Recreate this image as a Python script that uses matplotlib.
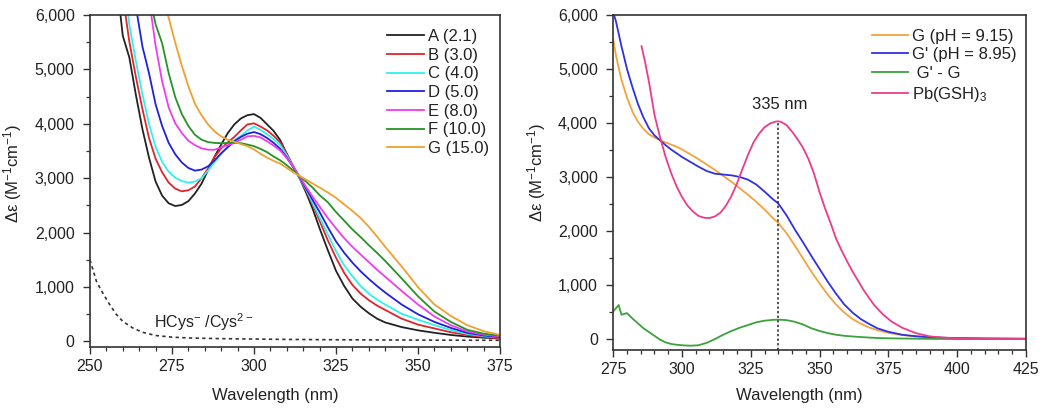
import numpy as np
import matplotlib
matplotlib.use("Agg")
import matplotlib.pyplot as plt
from matplotlib.ticker import MultipleLocator, StrMethodFormatter

plt.rcParams["font.family"] = ["Liberation Sans", "DejaVu Sans"]
plt.rcParams["mathtext.default"] = "regular"

# ---- left panel: Pb/Cys titration (ratio in legend) ----
wl_left = [258, 260, 262, 264, 266, 268, 270, 272, 274, 276, 278, 280, 282, 284,
           286, 288, 290, 292, 294, 296, 298, 300, 302, 304, 306, 308, 310, 312,
           314, 316, 318, 320, 322.5, 325, 327.5, 330, 332.5, 335, 337.5, 340,
           345, 350, 355, 360, 365, 370, 375]

spec_A = [6700, 5620, 5220, 4530, 3900, 3380, 2940, 2680, 2540, 2490, 2510, 2580,
          2720, 2900, 3150, 3400, 3620, 3830, 3990, 4100, 4160, 4180, 4110, 3990,
          3870, 3700, 3450, 3200, 2990, 2720, 2420, 2080, 1680, 1300, 1020, 790,
          640, 520, 420, 350, 265, 205, 160, 120, 90, 70, 55]
spec_B = [7500, 6350, 5510, 4860, 4270, 3740, 3360, 3110, 2920, 2810, 2760, 2780,
          2850, 3000, 3180, 3390, 3550, 3660, 3760, 3880, 3990, 4010, 3950, 3880,
          3780, 3660, 3450, 3220, 3000, 2760, 2500, 2220, 1860, 1540, 1260, 1040,
          880, 760, 660, 580, 420, 310, 240, 170, 120, 85, 61]
spec_C = [8000, 6800, 5820, 5150, 4540, 4000, 3580, 3300, 3120, 3010, 2950, 2920,
          2940, 3000, 3140, 3300, 3450, 3590, 3700, 3780, 3880, 3950, 3890, 3810,
          3720, 3610, 3420, 3210, 3000, 2780, 2530, 2280, 1970, 1660, 1400, 1200,
          1020, 880, 770, 680, 510, 400, 300, 210, 140, 100, 74]
spec_D = [9000, 8000, 7000, 6150, 5420, 4930, 4360, 3960, 3650, 3440, 3290, 3190,
          3140, 3160, 3220, 3330, 3460, 3570, 3680, 3760, 3820, 3850, 3810, 3740,
          3650, 3540, 3380, 3200, 3010, 2800, 2590, 2380, 2100, 1840, 1630, 1450,
          1290, 1150, 1020, 900, 680, 500, 360, 250, 160, 110, 80]
spec_E = [10500, 9600, 8800, 8000, 7200, 6300, 5440, 4780, 4300, 4010, 3830, 3690,
          3610, 3550, 3525, 3525, 3570, 3610, 3650, 3710, 3770, 3780, 3750, 3680,
          3600, 3510, 3370, 3210, 3020, 2830, 2650, 2480, 2270, 2080, 1900, 1740,
          1600, 1460, 1320, 1190, 930, 680, 460, 300, 185, 125, 92]
spec_F = [10000, 9200, 8400, 7700, 7000, 6400, 5830, 5480, 4930, 4490, 4180, 3960,
          3800, 3710, 3665, 3650, 3645, 3650, 3655, 3645, 3620, 3590, 3540, 3480,
          3400, 3330, 3240, 3140, 3030, 2930, 2820, 2690, 2560, 2380, 2220, 2060,
          1920, 1770, 1630, 1480, 1160, 830, 550, 360, 215, 145, 104]
spec_G = [11500, 10700, 9900, 9100, 8300, 7600, 6950, 6350, 5950, 5490, 5070, 4690,
          4370, 4160, 3990, 3860, 3770, 3710, 3670, 3630, 3590, 3530, 3450, 3380,
          3320, 3270, 3190, 3110, 3040, 2970, 2900, 2830, 2740, 2640, 2520, 2400,
          2270, 2110, 1930, 1740, 1380, 1000, 680, 470, 300, 190, 120]

left_labels = ["A (2.1)", "B (3.0)", "C (4.0)", "D (5.0)", "E (8.0)", "F (10.0)", "G (15.0)"]
left_colors = ["#222222", "#e0242a", "#30f0f0", "#2020e0", "#f03cf0", "#259325", "#f0a030"]

hcys_wl = [250, 252, 254, 256, 258, 260, 263, 266, 270, 275, 280, 290, 300, 310,
           325, 340, 355, 375]
hcys = [1500, 1100, 880, 680, 500, 370, 250, 170, 110, 80, 65, 52, 45, 38, 32, 28, 25, 22]

# ---- right panel ----
wl_right = [275, 276, 277, 278, 280, 282, 284, 286, 288, 290, 292, 294, 296, 298,
            300, 303, 306, 309, 312, 315, 318, 321, 324, 327, 330, 333, 335, 338,
            341, 344, 347, 350, 353, 356, 359, 362, 365, 368, 371, 375, 380, 385,
            390, 395, 400, 410, 425]
g_ph915 = [5550, 5250, 5020, 4800, 4470, 4210, 4020, 3890, 3790, 3730, 3680, 3640,
           3600, 3560, 3510, 3420, 3330, 3230, 3130, 3020, 2910, 2790, 2670, 2540,
           2400, 2240, 2150, 1960, 1730, 1490, 1250, 1030, 820, 640, 490, 370, 285,
           215, 165, 115, 75, 50, 35, 25, 18, 10, 5]
g_ph895 = [6050, 5880, 5650, 5420, 5000, 4660, 4350, 4100, 3900, 3770, 3680, 3590,
           3510, 3440, 3370, 3280, 3190, 3110, 3060, 3045, 3030, 3000, 2950, 2860,
           2730, 2590, 2510, 2290, 2030, 1790, 1540, 1300, 1060, 840, 640, 490, 370,
           280, 200, 135, 80, 52, 35, 25, 18, 10, 5]
g_diff = [510, 570, 630, 450, 480, 380, 290, 200, 130, 60, -10, -60, -90, -105,
          -115, -123, -115, -70, 0, 80, 150, 210, 260, 310, 340, 355, 360, 350,
          320, 270, 200, 150, 110, 80, 60, 48, 37, 28, 20, 14, 10, 7, 4, 2, 0, 0, 0]

pb_wl = [285.3, 286.5, 288, 290, 292, 294, 296, 298, 300, 302, 304, 306, 308, 310,
         312, 314, 316, 318, 320, 322, 324, 326, 328, 330, 332, 334, 335, 336, 338,
         340, 342, 344, 346, 348, 350, 352, 354, 356, 358, 360, 362, 364, 366, 368,
         370, 373, 376, 380, 385, 390, 395, 400, 410, 425]
pb_gsh3 = [5420, 5150, 4760, 4150, 3740, 3380, 3080, 2830, 2630, 2470, 2360, 2280,
           2245, 2240, 2270, 2340, 2470, 2650, 2880, 3150, 3410, 3640, 3800, 3920,
           3990, 4025, 4030, 4020, 3960, 3840, 3700, 3540, 3330, 3060, 2720, 2420,
           2150, 1860, 1640, 1440, 1250, 1080, 910, 760, 620, 460, 330, 210, 110,
           50, 25, 15, 8, 5]

right_labels = ["G (pH = 9.15)", "G' (pH = 8.95)", " G' - G", "Pb(GSH)$_3$"]
right_colors = ["#f5a23a", "#3030e6", "#3aa23a", "#ea3c8c"]

TXT = "#222222"
FS_TICK = 11.5
FS_LAB = 12

fig = plt.figure(figsize=(10.5, 4.19), dpi=100)
ax1 = fig.add_axes([0.0857, 0.172, 0.3905, 0.792])
ax2 = fig.add_axes([0.584, 0.165, 0.393, 0.7995])

for ser, lab, col in zip([spec_A, spec_B, spec_C, spec_D, spec_E, spec_F, spec_G],
                         left_labels, left_colors):
    ax1.plot(wl_left, ser, color=col, lw=1.3, label=lab)
ax1.plot(hcys_wl, hcys, color="#333333", lw=1.2, ls=(0, (2, 2)))
ax1.text(269.5, 360, "HCys$^{-}$ /Cys$^{2-}$", fontsize=FS_TICK, color=TXT,
         ha="left", va="center")
ax1.set_xlim(250, 375)
ax1.set_ylim(-100, 6000)
ax1.xaxis.set_major_locator(MultipleLocator(25))

for ser, lab, col in zip([g_ph915, g_ph895, g_diff], right_labels[:3], right_colors[:3]):
    ax2.plot(wl_right, ser, color=col, lw=1.3, label=lab)
ax2.plot(pb_wl, pb_gsh3, color=right_colors[3], lw=1.3, label=right_labels[3])

# dotted marker at the Pb(GSH)3 band maximum (skip the steep UV edge)
pb_x = np.array(pb_wl)
pb_y = np.array(pb_gsh3)
band = pb_x > 315
ipk = int(np.argmax(pb_y[band]))
x_pk, y_pk = pb_x[band][ipk], pb_y[band][ipk]
ax2.set_xlim(275, 425)
ax2.set_ylim(-200, 6000)
ax2.plot([x_pk, x_pk], [ax2.get_ylim()[0], y_pk], color="#222222", lw=1.1, ls=(0, (1.5, 1.5)))
ax2.text(x_pk + 0.5, y_pk + 310, f"{x_pk:.0f} nm", fontsize=FS_LAB, color=TXT,
         ha="center", va="center")
ax2.xaxis.set_major_locator(MultipleLocator(25))

for ax in (ax1, ax2):
    ax.xaxis.set_minor_locator(MultipleLocator(5))
    ax.yaxis.set_major_locator(MultipleLocator(1000))
    ax.yaxis.set_minor_locator(MultipleLocator(500))
    ax.yaxis.set_major_formatter(StrMethodFormatter("{x:,.0f}"))
    ax.tick_params(which="major", direction="out", length=5, width=1, color="#333333",
                   labelsize=FS_TICK, labelcolor=TXT, top=False, right=False)
    ax.tick_params(which="minor", direction="out", length=3, width=0.9, color="#333333",
                   top=False, right=False)
    ax.tick_params(axis="y", pad=6)
    ax.tick_params(axis="x", pad=4)
    for sp in ax.spines.values():
        sp.set_linewidth(1.2)
        sp.set_color("#333333")
    ax.set_xlabel("Wavelength (nm)", fontsize=FS_LAB, color=TXT)
    ax.set_ylabel("Δε (M$^{-1}$cm$^{-1}$)", fontsize=FS_LAB, color=TXT)

ax1.xaxis.set_label_coords(0.451, -0.123)
ax2.xaxis.set_label_coords(0.45, -0.113)
ax1.yaxis.set_label_coords(-0.16, 0.524)
ax2.yaxis.set_label_coords(-0.157, 0.528)

leg_kw = dict(frameon=False, loc="upper left", fontsize=FS_LAB, handlelength=2.2,
              handletextpad=0.25, labelspacing=0.22, borderpad=0, borderaxespad=0)
ax1.legend(bbox_to_anchor=(0.724, 0.958), **leg_kw)
ax2.legend(bbox_to_anchor=(0.626, 0.959), **leg_kw)
for leg in (ax1.get_legend(), ax2.get_legend()):
    for t in leg.get_texts():
        t.set_color(TXT)

fig.savefig("out.png", dpi=100)
